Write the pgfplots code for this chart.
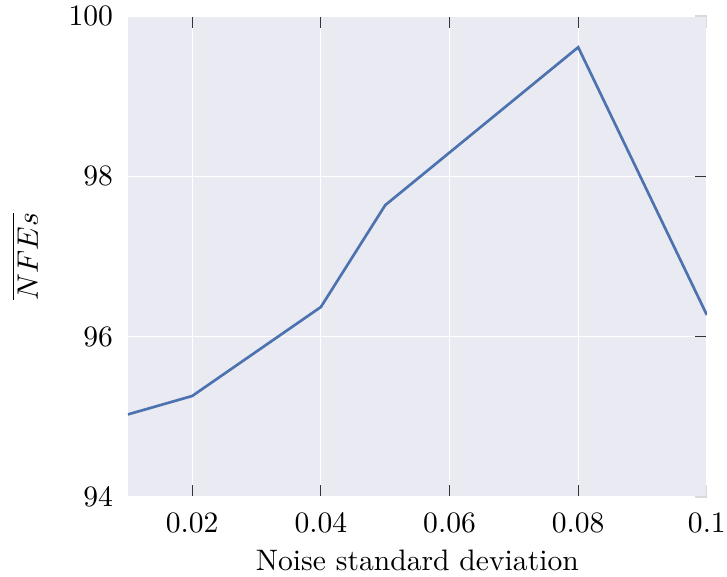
\documentclass[border=0pt]{standalone}
\usepackage{pgfplots}
\pgfplotsset{compat=1.18}
\definecolor{bgc}{HTML}{EAEAF2}
\definecolor{linec}{HTML}{4C72B0}
\begin{document}
\begin{tikzpicture}
\begin{axis}[
  scale only axis,
  width=195.6pt, height=162.5pt,
  xmin=0.01, xmax=0.1,
  ymin=94, ymax=100,
  xtick={0.02,0.04,0.06,0.08},
  xticklabels={0.02,0.04,0.06,0.08},
  ytick={96,98},
  extra x ticks={0.1},
  extra x tick labels={0.1},
  extra y ticks={94,100},
  extra tick style={tick style={black!15}},
  axis background/.style={fill=bgc},
  axis line style={draw=none},
  grid=major,
  major grid style={white, line width=0.4pt},
  xtick pos=both,
  ytick pos=right,
  yticklabel pos=left,
  tick align=inside,
  major tick length=4pt,
  tick style={black!80, line width=0.4pt},
  xlabel={Noise standard deviation},
  ylabel={$\overline{NFEs}$},
  xlabel style={at={(axis description cs:0.5,0)}, anchor=center, yshift=-21.3pt},
  ylabel style={at={(axis description cs:0,0.5)}, anchor=center, yshift=34.8pt},
  xticklabel style={yshift=-1.7pt},
  yticklabel style={xshift=-1.5pt},
]
\addplot[linec, line width=0.9pt] coordinates {
  (0.01,95.03) (0.02,95.26) (0.04,96.37) (0.05,97.64) (0.08,99.61) (0.1,96.27)
};
\end{axis}
\pgfresetboundingbox
\path (current axis.south west) ++(-43.2pt,-27.0pt) rectangle ++(245.6pt,194.9pt);
\end{tikzpicture}
\end{document}
